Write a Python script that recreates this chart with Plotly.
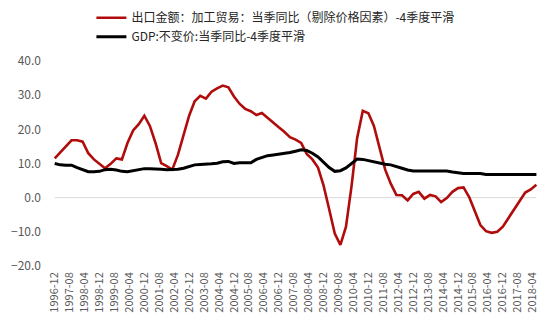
import pandas as pd
import plotly.graph_objects as go

# Quarterly dates 1996-12 .. 2018-06
quarters = [d.strftime("%Y-%m-%d") for d in pd.date_range("1996-12-01", "2018-06-01", freq="3MS")]

export_name = "出口金额：加工贸易：当季同比（剔除价格因素）-4季度平滑"
gdp_name = "GDP:不变价:当季同比-4季度平滑"

export_vals = [
    11.5, 13.1, 15.0, 16.8, 16.8, 16.4, 13.0, 11.2, 10.0, 8.6,
    9.9, 11.5, 11.2, 16.0, 19.7, 21.5, 24.0, 21.0, 16.0, 10.1,
    9.2, 8.2, 12.5, 18.0, 24.0, 28.2, 29.8, 29.0, 31.0, 32.0,
    32.8, 32.3, 29.6, 27.5, 26.0, 25.3, 24.2, 24.8, 23.3, 22.0,
    20.6, 19.3, 17.7, 17.0, 16.0, 12.8, 11.2, 8.8, 3.5, -3.3,
    -10.5, -13.8, -8.5, 3.3, 17.5, 25.4, 24.7, 21.0, 14.5, 8.2,
    4.1, 0.8, 0.7, -0.8, 1.1, 1.7, -0.3, 0.8, 0.4, -1.3,
    -0.1, 1.7, 2.8, 3.0, 0.2, -3.8, -8.0, -9.8, -10.3, -10.0,
    -8.5, -6.0, -3.3, -1.0, 1.5, 2.4, 3.8,
]

gdp_vals = [
    10.0, 9.6, 9.5, 9.5, 8.8, 8.2, 7.6, 7.6, 7.7, 8.2,
    8.3, 8.1, 7.7, 7.6, 7.9, 8.2, 8.5, 8.5, 8.5, 8.3,
    8.2, 8.2, 8.3, 8.6, 9.1, 9.6, 9.7, 9.7, 9.9, 10.1,
    10.5, 10.6, 10.0, 10.2, 10.1, 10.2, 11.2, 11.8, 12.3, 12.5,
    12.7, 12.8, 13.2, 13.6, 14.0, 13.8, 13.0, 11.9, 10.2, 8.8,
    7.7, 7.9, 8.7, 10.1, 11.3, 11.2, 10.8, 10.4, 10.0, 9.8,
    9.6, 9.2, 8.6, 8.1, 7.8, 7.8, 7.8, 7.8, 7.8, 7.8,
    7.8, 7.5, 7.2, 7.1, 7.1, 7.1, 7.1, 6.8, 6.8, 6.8,
    6.8, 6.8, 6.8, 6.8, 6.8, 6.8, 6.8,
]

y_ticks = [-20, -10, 0, 10, 20, 30, 40]

FONT = "Noto Sans CJK SC"

fig = go.Figure()
fig.add_trace(go.Scatter(x=quarters, y=export_vals, name=export_name, mode="lines",
                         line=dict(color="#B00C0C", width=2.6)))
fig.add_trace(go.Scatter(x=quarters, y=gdp_vals, name=gdp_name, mode="lines",
                         line=dict(color="#000000", width=3)))

fig.add_shape(type="line", xref="x", yref="y", x0=quarters[0], x1=quarters[-1], y0=0, y1=0,
              line=dict(color="#D9D9D9", width=1), layer="below")

fig.update_layout(
    width=554, height=325,
    margin=dict(l=50, r=13, t=61, b=59, autoexpand=False),
    plot_bgcolor="white", paper_bgcolor="white",
    font=dict(family=FONT, size=11, color="#595959"),
    showlegend=True,
    legend=dict(orientation="v", xref="container", yref="container",
                x=0.165, y=0.99, xanchor="left", yanchor="top",
                font=dict(family=FONT, size=12, color="#262626"),
                itemwidth=30, bgcolor="rgba(0,0,0,0)"),
    xaxis=dict(type="date", range=["1996-09-15", "2018-08-15"],
               tick0="1996-12-01", dtick="M8", tickformat="%Y-%m",
               tickangle=-90, showgrid=False, zeroline=False, showline=False,
               ticks="", automargin=False, ticklabelstandoff=3,
               tickfont=dict(family=FONT, size=11, color="#595959")),
    yaxis=dict(range=[-20, 40], tickvals=y_ticks, tickformat=".1f",
               showgrid=False, zeroline=False, showline=False, ticks="",
               automargin=False, ticklabelstandoff=8,
               tickfont=dict(family=FONT, size=12, color="#595959")),
)

fig.write_html("out.html")
